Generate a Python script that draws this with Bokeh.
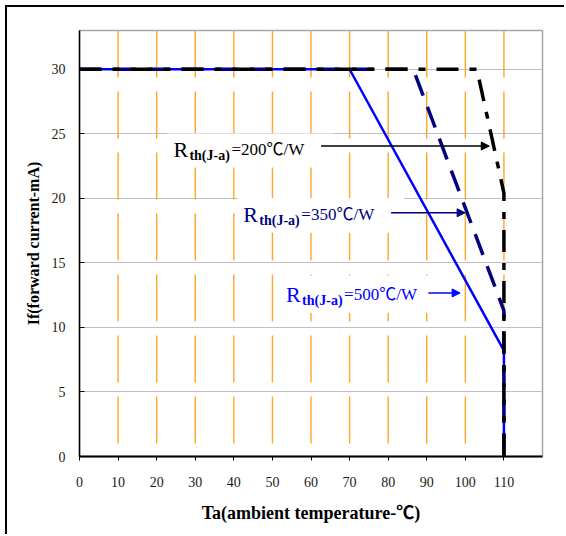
from bokeh.plotting import figure
from bokeh.models import Range1d, FixedTicker, Label, Arrow, NormalHead
from bokeh.embed import file_html
from bokeh.resources import INLINE

# ---- data ----
temp_ticks = [0, 10, 20, 30, 40, 50, 60, 70, 80, 90, 100, 110]
current_ticks = [0, 5, 10, 15, 20, 25, 30]
orange_grid_temps = [10, 20, 30, 40, 50, 60, 70, 80, 90, 100, 110]

# derating curves (Ta in degC, If in mA)
temps_500 = [0, 70, 110, 110]
current_500 = [30, 30, 8.2, 0]
temps_350 = [0, 86.5, 110, 110]
current_350 = [30, 30, 11.3, 0]
temps_200 = [0, 103, 110, 110]
current_200 = [30, 30, 20.4, 0]

rth_values = ["200", "350", "500"]

SERIF = "'Liberation Serif', 'Noto Sans CJK JP'"

p = figure(width=559, height=529, x_range=Range1d(0, 120), y_range=Range1d(0, 33),
           output_backend="svg", toolbar_location=None,
           min_border_left=72, min_border_right=24, min_border_top=23, min_border_bottom=80,
           styles={"margin-left": "7px", "margin-top": "7px",
                   "box-shadow": "-2px -2px 0px 0px #000000"})

p.background_fill_color = "white"
p.border_fill_color = "white"
p.outline_line_color = "#a6a6a6"
p.outline_line_width = 1.5

# grids
p.xgrid.visible = False
p.ygrid.ticker = FixedTicker(ticks=current_ticks)
p.ygrid.grid_line_color = "#c0c0c0"
p.ygrid.grid_line_width = 1

# axes
p.xaxis.ticker = FixedTicker(ticks=temp_ticks)
p.yaxis.ticker = FixedTicker(ticks=current_ticks)
for ax in (p.xaxis, p.yaxis):
    ax.major_label_text_font = SERIF
    ax.major_label_text_font_size = "14px"
    ax.major_label_text_color = "#1a1a1a"
    ax.axis_label_text_font = SERIF
    ax.axis_label_text_font_size = "16px"
    ax.axis_label_text_font_style = "bold"
    ax.axis_label_text_color = "#000000"
    ax.minor_tick_line_color = None
    ax.axis_line_color = "#000000"
    ax.major_tick_line_color = "#000000"

p.xaxis.axis_label = "Ta(ambient temperature-℃)"
p.xaxis.axis_label_text_font_size = "18px"
p.xaxis.axis_line_width = 2
p.xaxis.major_tick_out = 4
p.xaxis.major_tick_in = 0
p.xaxis.major_label_standoff = 16
p.xaxis.axis_label_standoff = 13

p.yaxis.axis_label = "If(forward current-mA)"
p.yaxis.axis_line_width = 1.5
p.yaxis.major_tick_out = 0
p.yaxis.major_tick_in = 5
p.yaxis.major_label_standoff = 14
p.yaxis.axis_label_standoff = 7

# orange dashed vertical lines
p.segment(x0=orange_grid_temps, y0=[33] * len(orange_grid_temps),
          x1=orange_grid_temps, y1=[0] * len(orange_grid_temps),
          line_color="#ffa726", line_width=1.4, line_dash="47 14")

# white label boxes
box_left = [22.7, 41.1, 52.25]
box_right = [65.7, 84.1, 96.06]
box_top = [25.02, 20.02, 14.01]
box_bottom = [22.38, 17.34, 11.14]
p.quad(left=box_left, right=box_right, top=box_top, bottom=box_bottom,
       fill_color="white", line_color=None)

# curves
p.line(temps_500, current_500, line_color="#0000ff", line_width=2.5)
p.line(temps_350, current_350, line_color="#000080", line_width=3.5, line_dash="22 12")
p.line(temps_200, current_200, line_color="#000000", line_width=3.5, line_dash="22 11 7 11")

# annotations
ann = [
    # (R x, baseline y, sub baseline y, color, arrow x0, arrow x1, arrow y)
    (24.34, 23.80, 23.35, "#000000", 62.6, 106.2, 24.05),
    (42.46, 18.76, 18.31, "#000080", 80.76, 99.95, 18.88),
    (53.55, 12.56, 12.11, "#0000ff", 90.43, 98.65, 12.67),
]
for val, (rx, by, sy, col, ax0, ax1, ay) in zip(rth_values, ann):
    p.add_layout(Label(x=rx, y=by, text="R", text_font=SERIF, text_font_size="22px",
                       text_color=col, text_baseline="alphabetic"))
    p.add_layout(Label(x=rx, y=sy, x_offset=16, text="th(J-a)", text_font=SERIF,
                       text_font_size="14px", text_font_style="bold",
                       text_color=col, text_baseline="alphabetic"))
    p.add_layout(Label(x=rx, y=by, x_offset=58, text="=" + val + "℃/W", text_font=SERIF,
                       text_font_size="17px", text_color=col, text_baseline="alphabetic"))
    p.add_layout(Arrow(end=NormalHead(size=8, fill_color=col, line_color=col),
                       x_start=ax0, y_start=ay, x_end=ax1, y_end=ay,
                       line_color=col, line_width=1.5))

open("out.html", "w").write(file_html(p, INLINE))
